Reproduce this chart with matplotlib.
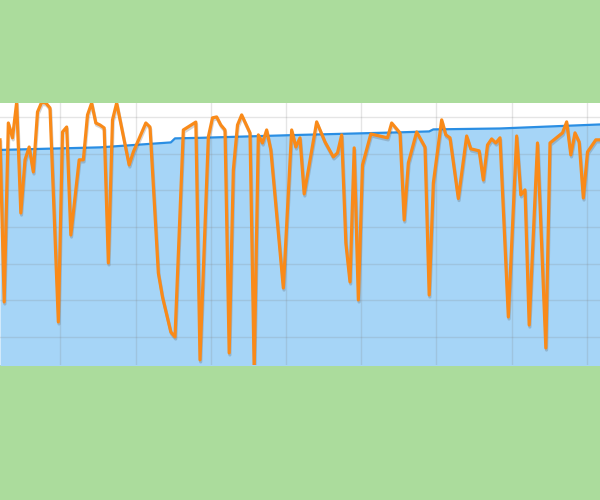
import numpy as np
import matplotlib
matplotlib.use("Agg")
import matplotlib.pyplot as plt
import matplotlib.patheffects as pe

# orange series: sample index and value (vertices)
orange_idx = [0, 1, 2, 3, 4, 5, 6, 7, 8, 9, 10, 11, 12, 14, 15, 16, 17, 19,
              20, 21, 22, 23, 24, 25, 26, 27, 28, 31, 32, 35, 36, 38, 39, 41,
              42, 44, 47, 48, 50, 51, 52, 53, 54, 55, 56, 57, 58, 60, 61, 62,
              63, 64, 65, 68, 70, 71, 72, 73, 76, 78, 80, 81, 82, 83, 84, 85,
              86, 87, 89, 93, 94, 96, 97, 98, 100, 102, 103, 104, 106, 107,
              108, 110, 112, 113, 115, 116, 117, 118, 119, 120, 122, 124, 125,
              126, 127, 129, 131, 132, 135, 136, 137, 138, 139, 140, 141, 143,
              144]
orange_val = [127.5, 39.1, 136.7, 128.6, 148.0, 87.6, 116.6, 123.6, 110.0,
              142.7, 148.0, 147.6, 144.9, 28.2, 131.8, 134.5, 75.6, 116.6,
              116.6, 141.1, 147.6, 136.7, 135.6, 134.0, 60.4, 138.4, 147.6,
              113.8, 120.9, 136.7, 134.5, 54.9, 41.8, 22.7, 20.0, 132.9, 137.2,
              7.5, 129.1, 139.5, 140.0, 135.6, 132.9, 11.3, 111.1, 135.6, 141.1,
              131.3, 2.0, 130.2, 125.8, 132.9, 122.0, 46.7, 132.9, 123.6, 128.6,
              98.0, 137.3, 126.4, 118.2, 120.4, 130.2, 71.3, 50.0, 123.1, 40.2,
              113.8, 130.7, 128.6, 136.7, 131.3, 83.8, 114.9, 131.8, 123.6,
              42.9, 104.0, 138.4, 130.2, 128.6, 95.5, 129.6, 122.6, 121.5,
              105.6, 124.7, 128.0, 125.8, 128.6, 30.9, 129.6, 97.5, 100.2, 26.5,
              125.8, 14.0, 125.8, 131.3, 137.3, 119.3, 131.3, 126.4, 95.8,
              120.9, 127.5, 127.5]

# blue area series
blue_idx = [0, 24, 41, 42, 48, 72, 96, 103, 104, 120, 144]
blue_val = [122.0, 123.4, 126.1, 128.3, 128.6, 130.2, 131.6, 132.1, 133.2,
            133.7, 135.9]

fig = plt.figure(figsize=(6, 5), dpi=100)
fig.patch.set_facecolor("#abdc9c")
ax = fig.add_axes([0, 0.27, 1, 0.524])
ax.set_facecolor("white")

ax.fill_between(blue_idx, blue_val, -10, color="#a6d5f7", zorder=1, lw=0)
ax.plot(blue_idx, blue_val, color="#2a8ee3", lw=1.6, zorder=3)
ax.plot(orange_idx, orange_val, color="#f98a19", lw=2.3, zorder=4,
        solid_joinstyle="round",
        path_effects=[pe.SimpleLineShadow(offset=(0.5, -1.5), alpha=0.25,
                                          shadow_color="#555555"),
                      pe.Normal()])

ax.set_xlim(0, 144)
ax.set_ylim(4.7, 147.6)
ax.set_xticks(np.arange(14.5, 144, 18.05))
ax.set_yticks(np.arange(20, 141, 20))
ax.set_axisbelow(False)
ax.grid(True, color="#808080", alpha=0.2, lw=1)
for gl in ax.get_xgridlines() + ax.get_ygridlines():
    gl.set_zorder(2)
ax.tick_params(length=0, labelbottom=False, labelleft=False)
for s in ax.spines.values():
    s.set_visible(False)

fig.savefig("out.png", dpi=100, facecolor=fig.get_facecolor())
